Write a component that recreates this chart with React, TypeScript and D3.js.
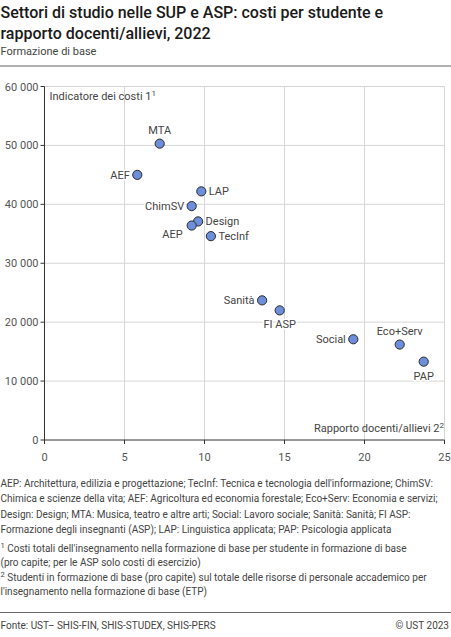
import React from "react";
import * as d3 from "d3";

const categories = ["MTA", "AEF", "LAP", "ChimSV", "Design", "AEP", "TecInf", "Sanità", "FI ASP", "Social", "Eco+Serv", "PAP"];
const ratioValues = [7.2, 5.8, 9.8, 9.2, 9.6, 9.2, 10.4, 13.6, 14.7, 19.3, 22.2, 23.7];
const costValues = [50300, 45000, 42200, 39700, 37100, 36400, 34600, 23700, 22000, 17100, 16200, 13300];
const labelSides = ["top", "left", "right", "left", "right", "bottomleft", "right", "left", "bottom", "left", "top", "bottom"];
const xTicks = [0, 5, 10, 15, 20, 25];
const yTicks = [0, 10000, 20000, 30000, 40000, 50000, 60000];

const titleLines = ["Settori di studio nelle SUP e ASP: costi per studente e", "rapporto docenti/allievi, 2022"];
const subtitle = "Formazione di base";
const noteLines = [
  "AEP: Architettura, edilizia e progettazione; TecInf: Tecnica e tecnologia dell'informazione; ChimSV:",
  "Chimica e scienze della vita; AEF: Agricoltura ed economia forestale; Eco+Serv: Economia e servizi;",
  "Design: Design; MTA: Musica, teatro e altre arti; Social: Lavoro sociale; Sanità: Sanità; FI ASP:",
  "Formazione degli insegnanti (ASP); LAP: Linguistica applicata; PAP: Psicologia applicata",
];
const footnotes = [
  { sup: "1", text: " Costi totali dell'insegnamento nella formazione di base per studente in formazione di base" },
  { sup: "", text: "(pro capite; per le ASP solo costi di esercizio)" },
  { sup: "2", text: " Studenti in formazione di base (pro capite) sul totale delle risorse di personale accademico per" },
  { sup: "", text: "l'insegnamento nella formazione di base (ETP)" },
];
const source = "Fonte: UST– SHIS-FIN, SHIS-STUDEX, SHIS-PERS";
const copyright = "© UST 2023";

const W = 451;
const H = 637;
const FONT = "Roboto, 'Noto Sans', sans-serif";

export default function App() {
  const x = d3.scaleLinear().domain([0, 25]).range([44.5, 444.5]);
  const y = d3.scaleLinear().domain([0, 60000]).range([440, 86.5]);
  const fmt = (v: number) => d3.format(",")(v).replace(/,/g, " ");

  const labelPos = (side: string, cx: number, cy: number) => {
    switch (side) {
      case "top": return { x: cx, y: cy - 10, anchor: "middle" };
      case "bottom": return { x: cx, y: cy + 18, anchor: "middle" };
      case "left": return { x: cx - 7.5, y: cy + 4, anchor: "end" };
      case "bottomleft": return { x: cx - 9, y: cy + 12, anchor: "end" };
      default: return { x: cx + 7.5, y: cy + 4, anchor: "start" };
    }
  };

  return (
    <svg width={W} height={H} style={{ position: "absolute", left: 0, top: 0, fontFamily: FONT }}>
      <rect width={W} height={H} fill="#fff" />
      {titleLines.map((t, i) => (
        <text key={i} x={0.5} y={17.5 + i * 21.5} fontSize={16} fontWeight={500} fill="#1a1a1a">{t}</text>
      ))}
      <text x={0.5} y={54.5} fontSize={11} fill="#444">{subtitle}</text>
      <line x1={0} x2={W} y1={66} y2={66} stroke="#666" strokeWidth={1.2} />

      {/* gridlines */}
      {yTicks.filter(v => v > 0).map(v => (
        <line key={"gy" + v} x1={x(0)} x2={x(25)} y1={y(v)} y2={y(v)} stroke="#d6d6d6" strokeWidth={1} />
      ))}
      {xTicks.filter(v => v > 0).map(v => (
        <line key={"gx" + v} x1={x(v)} x2={x(v)} y1={y(0)} y2={y(60000)} stroke="#d6d6d6" strokeWidth={1} />
      ))}

      {/* axes */}
      <line x1={x(0)} x2={x(0)} y1={y(0)} y2={y(60000)} stroke="#333" strokeWidth={1} />
      <line x1={x(0)} x2={x(25)} y1={y(0)} y2={y(0)} stroke="#333" strokeWidth={1} />
      {yTicks.map(v => (
        <g key={"ty" + v}>
          <line x1={x(0) - 4} x2={x(0)} y1={y(v)} y2={y(v)} stroke="#333" strokeWidth={1} />
          <text x={x(0) - 6} y={y(v) + 4} fontSize={11} fill="#555" textAnchor="end">{fmt(v)}</text>
        </g>
      ))}
      {xTicks.map(v => (
        <g key={"tx" + v}>
          <line x1={x(v)} x2={x(v)} y1={y(0)} y2={y(0) + 4} stroke="#333" strokeWidth={1} />
          <text x={x(v)} y={y(0) + 21} fontSize={11} fill="#555" textAnchor="middle">{v}</text>
        </g>
      ))}

      {/* axis titles */}
      <text x={49.5} y={100} fontSize={11} fill="#444">
        Indicatore dei costi 1<tspan dy={-4} fontSize={8}>1</tspan>
      </text>
      <text x={444} y={432} fontSize={11} fill="#444" textAnchor="end">
        Rapporto docenti/allievi 2<tspan dy={-4} fontSize={8}>2</tspan>
      </text>

      {/* points */}
      {categories.map((c, i) => (
        <circle key={"p" + c} cx={x(ratioValues[i])} cy={y(costValues[i])} r={4.6} fill="#6d8fdb" stroke="#2b2b2b" strokeWidth={1} />
      ))}
      {categories.map((c, i) => {
        const p = labelPos(labelSides[i], x(ratioValues[i]), y(costValues[i]));
        return (
          <text key={"l" + c} x={p.x} y={p.y} fontSize={11} fill="#444" textAnchor={p.anchor as any}
            stroke="#fff" strokeWidth={3} strokeLinejoin="round" paintOrder="stroke">{c}</text>
        );
      })}

      {/* notes */}
      {noteLines.map((t, i) => (
        <text key={"n" + i} x={0.5} y={487 + i * 15.3} fontSize={10} fill="#444">{t}</text>
      ))}
      {footnotes.map((f, i) => (
        <text key={"f" + i} x={0.5} y={551.5 + i * 14.5} fontSize={10} fill="#444">
          {f.sup ? <tspan dy={-3.5} fontSize={7.5}>{f.sup}</tspan> : null}
          {f.sup ? <tspan dy={3.5}>{f.text}</tspan> : f.text}
        </text>
      ))}
      <line x1={0} x2={W} y1={612.5} y2={612.5} stroke="#666" strokeWidth={1.2} />
      <text x={0.5} y={629} fontSize={10} fill="#444">{source}</text>
      <text x={449} y={629} fontSize={10} fill="#444" textAnchor="end">{copyright}</text>
    </svg>
  );
}
